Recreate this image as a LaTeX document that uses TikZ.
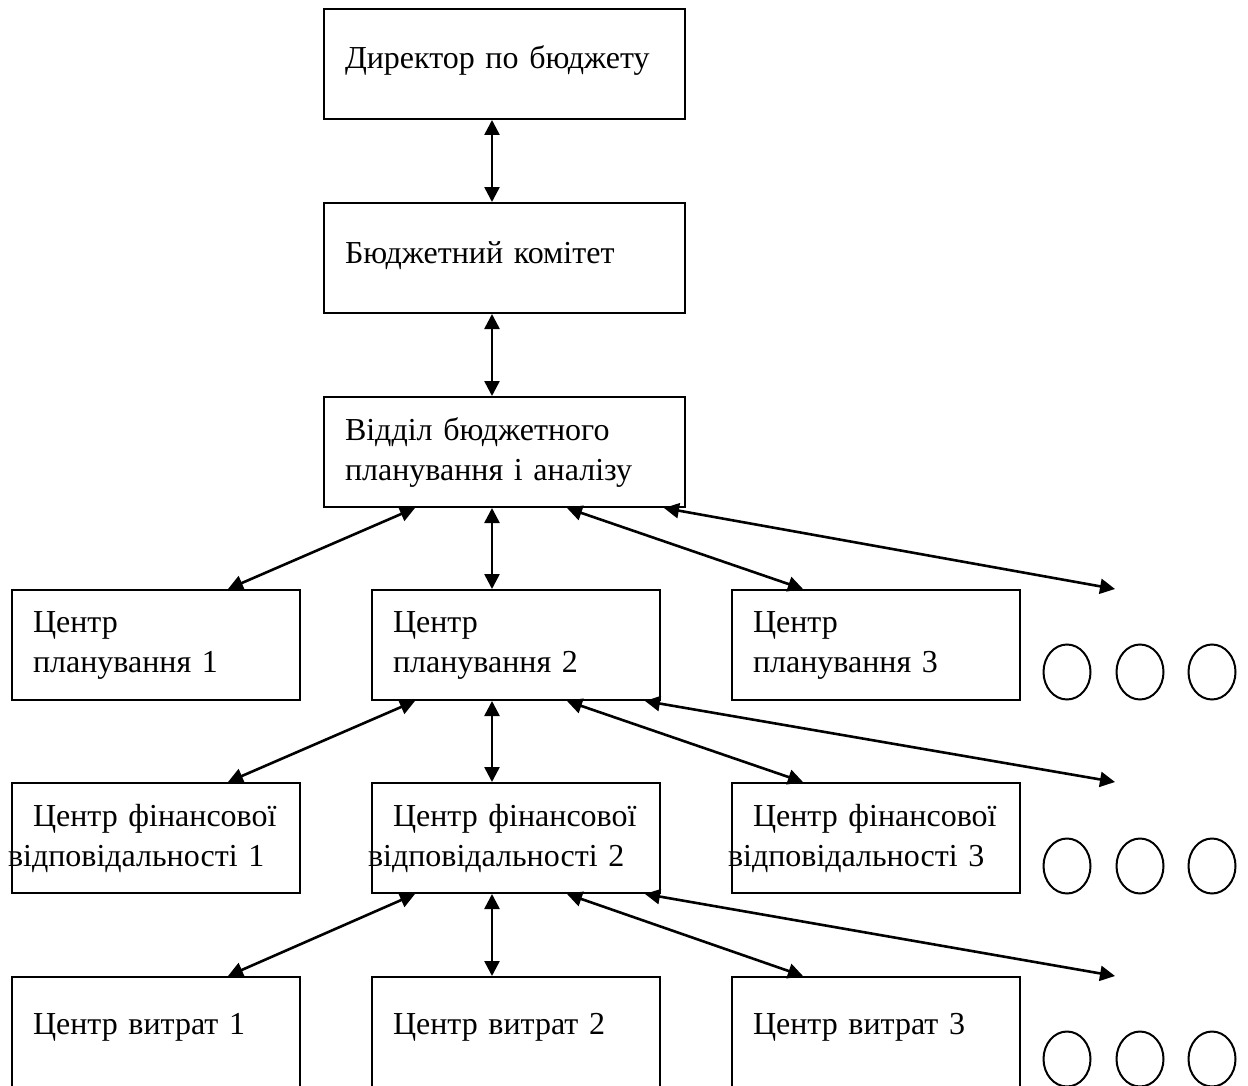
\documentclass[tikz,border=0pt]{standalone}
\usepackage{fontspec}
\setmainfont{Liberation Serif}
\usetikzlibrary{arrows.meta,shapes.geometric}

\tikzset{
	box/.style={draw, line width=1pt, anchor=north west, minimum width=144pt, minimum height=55pt, inner xsep=10.5pt, text width=123pt, align=left, font=\fontsize{16}{20}\selectfont},
	topbox/.style={box, minimum width=180.5pt, text width=159.5pt},
	oneline/.style={text height=11pt, text depth=6pt},
	costbox/.style={box, minimum height=58pt, text height=11pt, text depth=12pt},
	link/.style={{Triangle[length=7.5pt,width=7.5pt]}-{Triangle[length=7.5pt,width=7.5pt]}, line width=1.3pt},
	more/.style={draw, ellipse, line width=1pt, minimum width=23.5pt, minimum height=27.5pt, inner sep=0pt}
}

\begin{document}
\begin{tikzpicture}[x=0.5pt, y=-0.5pt]
	\clip (0,0) rectangle (1248,1086);

	\node[topbox, oneline] (dir) at (323,8) {Директор по бюджету};
	\node[topbox, oneline] (kom) at (323,202) {Бюджетний комітет};
	\node[topbox] (vidd) at (323,396) {Відділ бюджетного\\планування і аналізу};

	\node[box] (plan1) at (11,589) {Центр\\планування 1};
	\node[box] (plan2) at (371,589) {Центр\\планування 2};
	\node[box] (plan3) at (731,589) {Центр\\планування 3};

	\node[box] (fin1) at (11,782) {Центр фінансової\\\hspace*{-12.5pt}відповідальності~1};
	\node[box] (fin2) at (371,782) {Центр фінансової\\\hspace*{-12.5pt}відповідальності~2};
	\node[box] (fin3) at (731,782) {Центр фінансової\\\hspace*{-12.5pt}відповідальності~3};

	\node[costbox] (cost1) at (11,976) {Центр витрат 1};
	\node[costbox] (cost2) at (371,976) {Центр витрат 2};
	\node[costbox] (cost3) at (731,976) {Центр витрат 3};

	% the rest of each row
	\foreach \r/\y in {plan/672, fin/866, cost/1059}
		\foreach \k/\x in {a/1067, b/1140, c/1212}
			\node[more] (\r\k) at (\x,\y) {};

	\coordinate (plan4) at (1115,589);
	\coordinate (fin4) at (1115,782);
	\coordinate (cost4) at (1115,976);

	\coordinate (pl) at (415,0);
	\coordinate (cm) at (492,0);
	\coordinate (pr) at (567,0);
	\coordinate (cl) at (228,0);
	\coordinate (cr) at (803,0);

	\draw[link] (dir.south -| cm) -- (kom.north -| cm);
	\draw[link] (kom.south -| cm) -- (vidd.north -| cm);

	\foreach \p/\c/\e in {vidd/plan/-11pt, plan2/fin/-8pt, fin2/cost/-8pt} {
		\draw[link] (\p.south -| pl) -- (\c1.north -| cl);
		\draw[link] (\p.south -| cm) -- (\c2.north -| cm);
		\draw[link] (\p.south -| pr) -- (\c3.north -| cr);
		\draw[link] ([xshift=\e]\p.south east) -- (\c4);
	}
\end{tikzpicture}
\end{document}
